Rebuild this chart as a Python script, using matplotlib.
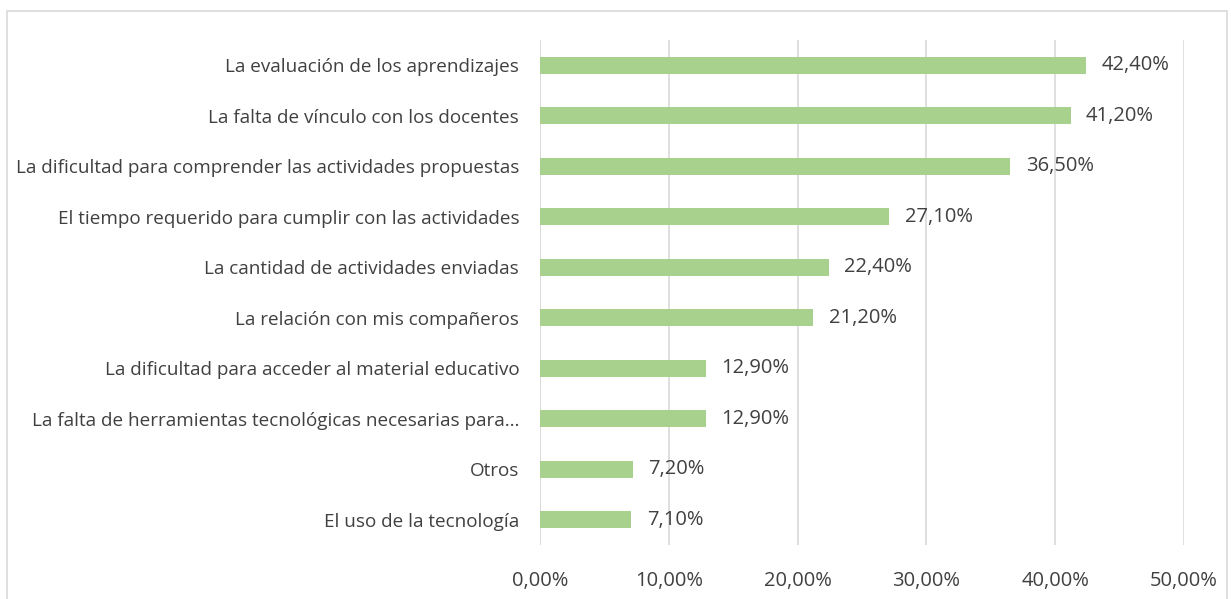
import matplotlib
matplotlib.use("Agg")
import matplotlib.pyplot as plt
from matplotlib.patches import Rectangle

categories = [
    "La evaluación de los aprendizajes",
    "La falta de vínculo con los docentes",
    "La dificultad para comprender las actividades propuestas",
    "El tiempo requerido para cumplir con las actividades",
    "La cantidad de actividades enviadas",
    "La relación con mis compañeros",
    "La dificultad para acceder al material educativo",
    "La falta de herramientas tecnológicas necesarias para…",
    "Otros",
    "El uso de la tecnología",
]
values = [42.4, 41.2, 36.5, 27.1, 22.4, 21.2, 12.9, 12.9, 7.2, 7.1]
value_labels = ["42,40%", "41,20%", "36,50%", "27,10%", "22,40%", "21,20%",
                "12,90%", "12,90%", "7,20%", "7,10%"]
xticks = [0, 10, 20, 30, 40, 50]
xtick_labels = ["0,00%", "10,00%", "20,00%", "30,00%", "40,00%", "50,00%"]

plt.rcParams['font.family'] = ['Open Sans', 'DejaVu Sans']
W, H = 1231, 599
fig = plt.figure(figsize=(W / 100, H / 100), dpi=100)
fig.patches.append(Rectangle((7 / W, -0.01), (1227 - 7) / W, 1 - 11 / H + 0.01,
                             transform=fig.transFigure, fill=False,
                             edgecolor="#D9D9D9", linewidth=1.2))

ax = fig.add_axes([540 / W, 1 - 545 / H, (1184 - 540) / W, (545 - 40) / H])
n = len(categories)
ypos = list(range(n))
ax.barh(ypos, values, height=0.34, color="#A9D18E", zorder=3)
ax.set_ylim(n - 0.5, -0.5)
ax.set_xlim(0, 50)
ax.set_xticks(xticks)
ax.set_xticklabels(xtick_labels, fontsize=14.5, color="#404040")
ax.set_yticks(ypos)
ax.set_yticklabels(categories, fontsize=13.6, color="#404040")
ax.tick_params(axis="y", length=0, pad=15)
ax.tick_params(axis="x", length=0, pad=19)
ax.grid(axis="x", color="#D9D9D9", linewidth=1.2, zorder=0)
for s in ax.spines.values():
    s.set_visible(False)
ax.axvline(0, color="#D9D9D9", linewidth=1.2, zorder=1)
for y, v, lab in zip(ypos, values, value_labels):
    ax.text(v + 1.2, y, lab, va="center", ha="left", fontsize=14.5, color="#404040", zorder=4)

fig.savefig("out.png", dpi=100)
